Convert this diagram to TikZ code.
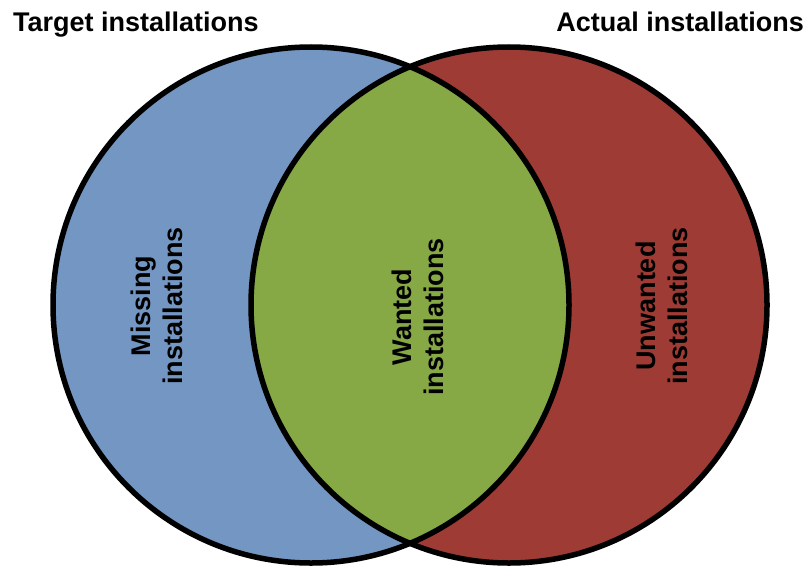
\documentclass[tikz,border=0pt]{standalone}
\usepackage{fontspec}
\setmainfont{Liberation Sans}
\definecolor{setblue}{RGB}{115,150,194}
\definecolor{setgreen}{RGB}{134,168,69}
\definecolor{setred}{RGB}{159,59,53}
\begin{document}
\begin{tikzpicture}[x=1pt,y=-1pt,
  title/.style={font=\fontsize{27}{32}\selectfont\bfseries, inner sep=0pt},
  region/.style={font=\fontsize{27}{32}\selectfont\bfseries, rotate=90, align=center, inner sep=0pt},
  outline/.style={line width=5.5pt, draw=black}]
\useasboundingbox (0,0) rectangle (810,567);
\coordinate (cl) at (311,305);
\coordinate (cr) at (509,305);
\fill[setblue] (cl) circle[radius=258];
\fill[setred] (cr) circle[radius=258];
\begin{scope}
  \clip (cl) circle[radius=258];
  \fill[setgreen] (cr) circle[radius=258];
\end{scope}
\draw[outline] (cl) circle[radius=258];
\draw[outline] (cr) circle[radius=258];
\node[title, anchor=base west] (target) at (13,32) {Target installations};
\node[title, anchor=base east] (actual) at (804,32) {Actual installations};
\node[region] (missing) at (157,306) {Missing\\installations};
\node[region] (wanted) at (418,317) {Wanted\\installations};
\node[region] (unwanted) at (662,306) {Unwanted\\installations};
\end{tikzpicture}
\end{document}
